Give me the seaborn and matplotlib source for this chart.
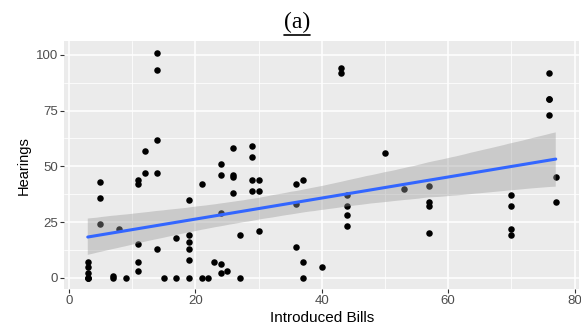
import numpy as np
import pandas as pd
import matplotlib
matplotlib.use("Agg")
import matplotlib.pyplot as plt
import seaborn as sns
from matplotlib.lines import Line2D
from matplotlib.collections import PolyCollection

# ---- data (some points overlap exactly) ----
bills = [3, 3, 3, 3, 3, 3,
         5, 5, 5,
         7, 7,
         8,
         9,
         11, 11, 11, 11, 11,
         12, 12,
         14, 14, 14, 14, 14,
         15,
         17, 17,
         19, 19, 19, 19, 19, 19,
         21, 21,
         22,
         23,
         24, 24, 24, 24, 24,
         25,
         26, 26, 26, 26,
         27, 27,
         29, 29, 29, 29,
         30, 30, 30,
         36, 36, 36,
         37, 37, 37,
         40,
         43, 43,
         44, 44, 44, 44,
         50,
         53,
         57, 57, 57, 57,
         70, 70, 70, 70,
         76, 76, 76, 76,
         77, 77]
hearings = [7, 5, 2, 0, 0, 0,
            43, 36, 24,
            1, 0,
            22,
            0,
            44, 42, 15, 7, 3,
            57, 47,
            101, 93, 62, 47, 13,
            0,
            18, 0,
            35, 19, 16, 13, 8, 0,
            42, 0,
            0,
            7,
            51, 46, 29, 6, 2,
            3,
            58, 46, 45, 38,
            19, 0,
            59, 54, 44, 39,
            44, 39, 21,
            42, 33, 14,
            44, 7, 0,
            5,
            94, 92,
            37, 32, 28, 23,
            56,
            40,
            41, 34, 32, 20,
            37, 32, 22, 19,
            92, 80, 80, 73,
            45, 34]

x_ticks = [0, 20, 40, 60, 80]
y_ticks = [0, 25, 50, 75, 100]
x_label = "Introduced Bills"
y_label = "Hearings"
title = "(a)"

df = pd.DataFrame({x_label: bills, y_label: hearings})

sns.set_theme(style="darkgrid")
plt.rcParams["font.family"] = ["Liberation Sans", "DejaVu Sans"]

fig = plt.figure(figsize=(5.81, 3.33), dpi=100)
ax = fig.add_axes([0.1108, 0.132, 0.886, 0.744])
ax.set_facecolor("#EBEBEB")

sns.regplot(data=df, x=x_label, y=y_label, ax=ax, ci=95, n_boot=2000, seed=3,
            scatter_kws=dict(s=22, color="black", linewidths=0, alpha=1),
            line_kws=dict(color="#3366FF", linewidth=2.2))

# restyle the confidence band like ggplot
for c in ax.collections:
    if isinstance(c, PolyCollection):
        c.set_facecolor("#999999")
        c.set_alpha(0.4)
        c.set_edgecolor("none")

ax.set_xlim(-0.7, 80.7)
ax.set_ylim(-5.05, 106.05)
ax.set_xticks(x_ticks)
ax.set_yticks(y_ticks)
ax.set_xticks([10, 30, 50, 70], minor=True)
ax.set_yticks([12.5, 37.5, 62.5, 87.5], minor=True)
ax.grid(which="major", color="white", linewidth=1.1)
ax.grid(which="minor", color="white", linewidth=0.55)
ax.set_axisbelow(True)
for s in ax.spines.values():
    s.set_visible(False)
ax.tick_params(which="major", length=3, width=0.8, color="#333333",
               labelsize=9.5, labelcolor="#4D4D4D", pad=1.5,
               bottom=True, left=True)
ax.tick_params(which="minor", length=0)
ax.set_xlabel(x_label, fontsize=11, color="black", labelpad=3)
ax.set_ylabel(y_label, fontsize=10.5, color="black", labelpad=4)

t = fig.text(0.511, 0.915, title, ha="center", va="baseline",
             fontsize=17, family=["Liberation Serif", "DejaVu Serif"], color="black")
fig.canvas.draw()
bb = t.get_window_extent(fig.canvas.get_renderer())
fw, fh = fig.bbox.width, fig.bbox.height
yl = (bb.y0 - 2) / fh
fig.add_artist(Line2D([bb.x0 / fw, bb.x1 / fw], [yl, yl], color="black", linewidth=1.2))

fig.savefig("out.png", dpi=100)
